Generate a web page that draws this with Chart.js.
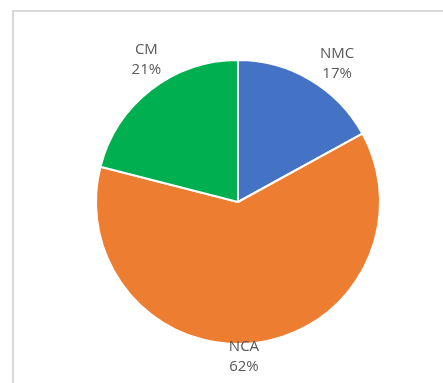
<!DOCTYPE html>
<html>
<head>
<meta charset="utf-8">
<script src="https://cdn.jsdelivr.net/npm/chart.js@4"></script>
<style>
  html, body { margin: 0; padding: 0; background: #fff; }
  body { width: 443px; height: 383px; position: relative; overflow: hidden; }
  #frame {
    position: absolute; left: 12px; top: 10px; width: 460px; height: 400px;
    border-left: 2px solid #d9d9d9; border-top: 2px solid #d9d9d9;
  }
  #wrap { position: absolute; left: 0; top: 0; width: 443px; height: 383px; }
</style>
</head>
<body>
<div id="frame"></div>
<div id="wrap"><canvas id="chart" width="443" height="383"></canvas></div>
<script>
const labels = ["NMC", "NCA", "CM"];
const shares = [17, 62, 21];
const colors = ["#4472C4", "#ED7D31", "#00B050"];

// outside-end labels: category on one line, percentage below
const outsideLabels = {
  id: "outsideLabels",
  afterDatasetsDraw(chart) {
    const ctx = chart.ctx;
    const meta = chart.getDatasetMeta(0);
    ctx.save();
    ctx.font = "15px 'Open Sans'";
    ctx.fillStyle = "#595959";
    ctx.textAlign = "center";
    ctx.textBaseline = "middle";
    meta.data.forEach((arc, i) => {
      const mid = (arc.startAngle + arc.endAngle) / 2 + 5 * Math.PI / 180;
      const ux = Math.cos(mid), uy = Math.sin(mid);
      const dist = arc.outerRadius + 12 + 28 * Math.abs(ux);
      const cx = arc.x + ux * dist;
      const cy = arc.y + uy * dist;
      ctx.fillText(labels[i], cx, cy - 10);
      ctx.fillText(shares[i] + "%", cx, cy + 10);
    });
    ctx.restore();
  }
};

new Chart(document.getElementById("chart").getContext("2d"), {
  type: "pie",
  data: {
    labels: labels,
    datasets: [{
      data: shares,
      backgroundColor: colors,
      borderColor: "#ffffff",
      borderWidth: 2
    }]
  },
  options: {
    responsive: false,
    animation: false,
    layout: { padding: { left: 95, right: 62, top: 59, bottom: 38 } },
    plugins: {
      legend: { display: false },
      tooltip: { enabled: false }
    }
  },
  plugins: [outsideLabels]
});
</script>
</body>
</html>
